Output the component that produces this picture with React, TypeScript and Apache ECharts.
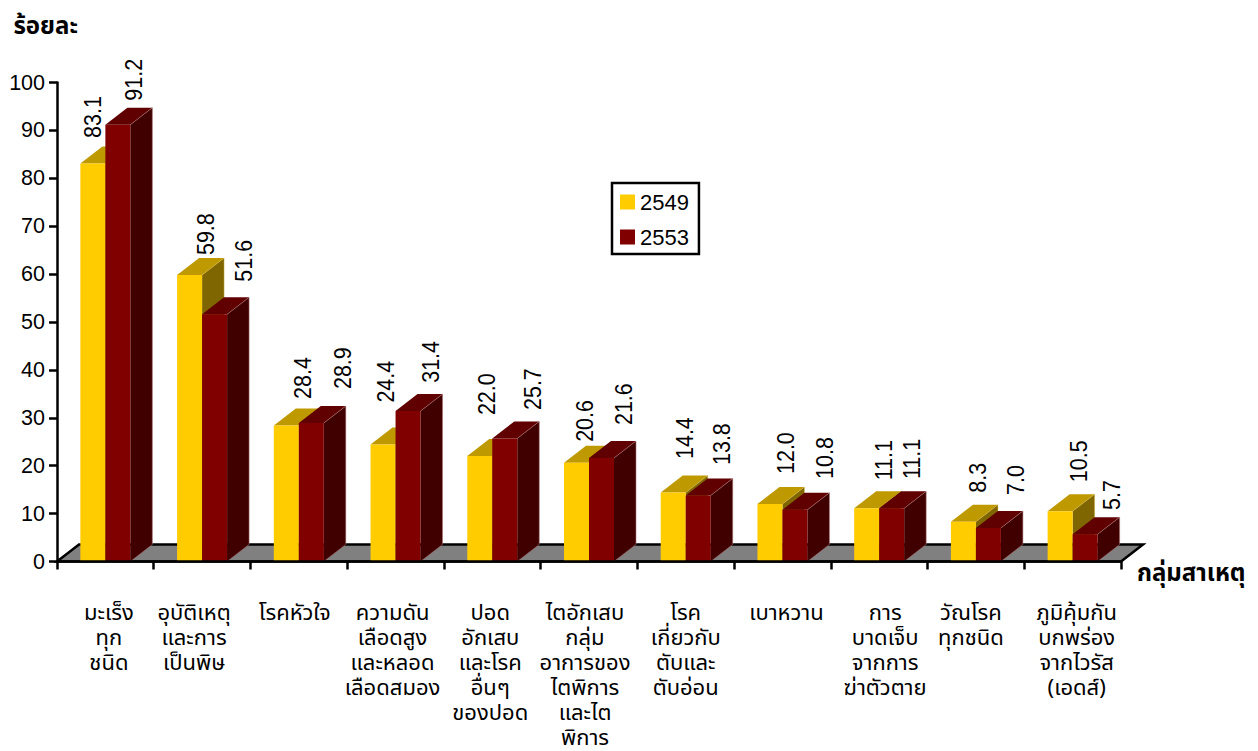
import React, { useEffect, useRef } from "react";
import * as echarts from "echarts";

const categories = [
  "มะเร็ง\nทุก\nชนิด",
  "อุบัติเหตุ\nและการ\nเป็นพิษ",
  "โรคหัวใจ",
  "ความดัน\nเลือดสูง\nและหลอด\nเลือดสมอง",
  "ปอด\nอักเสบ\nและโรค\nอื่นๆ\nของปอด",
  "ไตอักเสบ\nกลุ่ม\nอาการของ\nไตพิการ\nและไต\nพิการ",
  "โรค\nเกี่ยวกับ\nตับและ\nตับอ่อน",
  "เบาหวาน",
  "การ\nบาดเจ็บ\nจากการ\nฆ่าตัวตาย",
  "วัณโรค\nทุกชนิด",
  "ภูมิคุ้มกัน\nบกพร่อง\nจากไวรัส\n(เอดส์)",
];
const values2549 = [83.1, 59.8, 28.4, 24.4, 22.0, 20.6, 14.4, 12.0, 11.1, 8.3, 10.5];
const values2553 = [91.2, 51.6, 28.9, 31.4, 25.7, 21.6, 13.8, 10.8, 11.1, 7.0, 5.7];
const seriesNames = ["2549", "2553"];

// Layout nudges for hand-placed labels (px)
const labelDx2549 = [0, 15.5, 16, 2, 6.5, 7.5, 11, 16, 16.5, 14, 18];
const labelDx2553 = [16, 28.5, 31, 22, 28, 21.5, 23, 30, 19.5, 27, 26];
const labelGap2549 = [25.5, 20, 26.5, 42, 41, 21, 33.5, 30, 28, 29, 29];
const labelGap2553 = [24, 32.6, 34, 28.3, 28.4, 33, 30.4, 30.8, 29.3, 33, 24.2];
const categoryNudge = [3.5, -8, -4, -3, -2, -4, 0, 4, 6, -5, 4];

const DX = 22;
const DY = 17;
const BAR_W = 25;
const THAI = '"Noto Sans Thai", "Noto Sans", "DejaVu Sans", sans-serif';
const LATIN = '"Liberation Sans", Arial, sans-serif';

function barRender(offsetSign: number, colors: string[], dxs: number[], gaps: number[]) {
  return (params: any, api: any) => {
    const i = api.value(0);
    const v = api.value(1);
    const base = api.coord([i, 0]);
    const top = api.coord([i, v]);
    const x0 = offsetSign < 0 ? base[0] - BAR_W : base[0];
    const x1 = x0 + BAR_W;
    const y0 = base[1];
    const y1 = top[1];
    const labelX = (x0 + x1) / 2 + dxs[i];
    const labelY = y1 - gaps[i];
    return {
      type: "group",
      children: [
        {
          type: "polygon",
          shape: { points: [[x1, y0], [x1 + DX, y0 - DY], [x1 + DX, y1 - DY], [x1, y1]] },
          style: { fill: colors[2] },
        },
        {
          type: "polygon",
          shape: { points: [[x0, y1], [x1, y1], [x1 + DX, y1 - DY], [x0 + DX, y1 - DY]] },
          style: { fill: colors[1] },
        },
        { type: "rect", shape: { x: x0, y: y1, width: BAR_W, height: y0 - y1 }, style: { fill: colors[0] } },
        {
          type: "polyline",
          shape: { points: [[x1, y1], [x1 + DX, y1 - DY], [x1 + DX, y0 - DY], [x1, y0]] },
          style: { fill: "none", stroke: colors[3], lineWidth: 0.7 },
        },
        {
          type: "text",
          x: labelX,
          y: labelY,
          rotation: Math.PI / 2,
          scaleY: 1.15,
          style: {
            text: v.toFixed(1),
            font: `21.5px ${LATIN}`,
            fill: "#000",
            align: "left",
            verticalAlign: "middle",
          },
          z2: 50,
        },
      ],
    };
  };
}

function floorRender(params: any, api: any) {
  const band = api.size([1, 0])[0];
  const a = api.coord([0, 0]);
  const b = api.coord([categories.length - 1, 0]);
  const xl = a[0] - band / 2;
  const xr = b[0] + band / 2;
  const y = a[1];
  return {
    type: "group",
    children: [
      {
        type: "polygon",
        shape: { points: [[xl, y], [xl + DX, y - DY], [xr + DX, y - DY], [xr, y]] },
        style: { fill: "#808080", stroke: "#000", lineWidth: 2.5 },
      },
    ],
  };
}

export default function App() {
  const ref = useRef<HTMLDivElement>(null);
  useEffect(() => {
    const chart = echarts.init(ref.current!, undefined, { renderer: "svg" });
    chart.setOption({
      animation: false,
      backgroundColor: "#fff",
      grid: { left: 57, right: 137, top: 82.5, bottom: 189.5, outerBoundsMode: "none" },
      legend: {
        left: 612,
        top: 183,
        orient: "vertical",
        data: seriesNames,
        icon: "rect",
        itemWidth: 15,
        itemHeight: 15,
        itemGap: 13,
        padding: [8, 10, 6, 8],
        borderColor: "#000",
        borderWidth: 2.5,
        backgroundColor: "#fff",
        textStyle: { fontFamily: LATIN, fontSize: 22, color: "#000" },
        selectedMode: false,
      },
      xAxis: {
        type: "category",
        data: categories.map((c, i) => ({
          value: c,
          textStyle: {
            padding: categoryNudge[i] >= 0 ? [0, 0, 0, 2 * categoryNudge[i]] : [0, -2 * categoryNudge[i], 0, 0],
          },
        })),
        name: "กลุ่มสาเหตุ",
        nameLocation: "end",
        nameGap: 16,
        nameTextStyle: { fontFamily: THAI, fontSize: 24, fontWeight: "bold", color: "#000", verticalAlign: "top", lineHeight: 24 },
        axisLine: { lineStyle: { color: "#000", width: 2.5 } },
        axisTick: { show: true, length: 8, alignWithLabel: false, interval: 0, lineStyle: { color: "#000", width: 2.5 } },
        axisLabel: {
          interval: 0,
          margin: 39,
          fontFamily: THAI,
          fontSize: 22,
          lineHeight: 25,
          color: "#000",
          align: "center",
        },
        splitLine: { show: false },
        z: 10,
      },
      yAxis: {
        type: "value",
        min: 0,
        max: 100,
        interval: 10,
        name: "ร้อยละ",
        nameLocation: "end",
        nameGap: 44,
        nameTextStyle: { fontFamily: THAI, fontSize: 24, fontWeight: "bold", color: "#000", align: "right", padding: [0, -21, 0, 0] },
        axisLine: { show: true, lineStyle: { color: "#000", width: 2.5 } },
        axisTick: { show: true, length: 8, lineStyle: { color: "#000", width: 2.5 } },
        axisLabel: { fontFamily: LATIN, fontSize: 21.5, color: "#000", margin: 12 },
        splitLine: { show: false },
        z: 10,
      },
      series: [
        {
          type: "custom",
          name: "floor",
          silent: true,
          clip: false,
          data: [[0, 0]],
          renderItem: floorRender,
          z: 1,
        },
        {
          type: "custom",
          name: seriesNames[0],
          clip: false,
          itemStyle: { color: "#FFCC00" },
          data: values2549.map((v, i) => [i, v]),
          encode: { x: 0, y: 1 },
          renderItem: barRender(-1, ["#FFCC00", "#BF9900", "#806600", "rgba(220,190,80,0.6)"], labelDx2549, labelGap2549),
          z: 2,
        },
        {
          type: "custom",
          name: seriesNames[1],
          clip: false,
          itemStyle: { color: "#800000" },
          data: values2553.map((v, i) => [i, v]),
          encode: { x: 0, y: 1 },
          renderItem: barRender(1, ["#800000", "#600000", "#400000", "rgba(170,120,120,0.8)"], labelDx2553, labelGap2553),
          z: 3,
        },
      ],
    });
    return () => chart.dispose();
  }, []);
  return <div ref={ref} style={{ position: "fixed", left: 0, top: 0, width: 1258, height: 751 }} />;
}
